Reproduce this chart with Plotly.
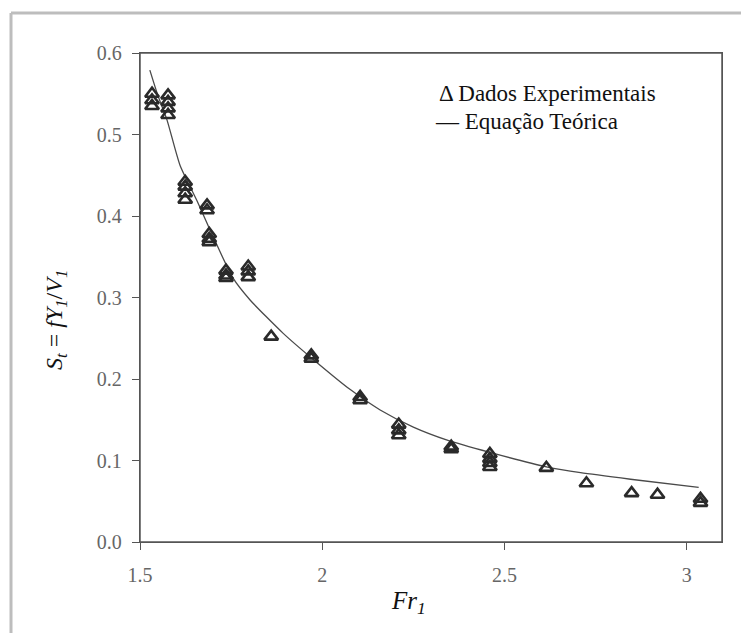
import plotly.graph_objects as go

fr_exp = [1.533, 1.533, 1.533,
          1.577, 1.577, 1.577, 1.577,
          1.624, 1.624, 1.624, 1.624,
          1.684, 1.684,
          1.690, 1.690, 1.690,
          1.736, 1.736, 1.736,
          1.797, 1.797, 1.797,
          1.860,
          1.970, 1.970,
          2.104, 2.104,
          2.210, 2.210, 2.210,
          2.354, 2.354,
          2.460, 2.460, 2.460, 2.460,
          2.615,
          2.725,
          2.849,
          2.920,
          3.038, 3.038]
st_exp = [0.550, 0.542, 0.535,
          0.548, 0.540, 0.532, 0.524,
          0.442, 0.436, 0.428, 0.420,
          0.413, 0.407,
          0.378, 0.372, 0.368,
          0.333, 0.327, 0.324,
          0.338, 0.332, 0.325,
          0.252,
          0.229, 0.225,
          0.178, 0.174,
          0.144, 0.137, 0.131,
          0.117, 0.114,
          0.108, 0.102, 0.097, 0.092,
          0.091,
          0.072,
          0.060,
          0.058,
          0.053, 0.048]

# Theoretical curve
fr_teo = [1.527, 1.549, 1.574, 1.610, 1.657, 1.684, 1.755, 1.802, 1.893,
          1.986, 2.077, 2.159, 2.250, 2.343, 2.460, 2.618, 2.709, 2.846, 3.033]
st_teo = [0.579, 0.548, 0.518, 0.462, 0.418, 0.391, 0.324, 0.297, 0.256,
          0.220, 0.187, 0.162, 0.141, 0.125, 0.110, 0.092, 0.085, 0.077, 0.067]

x_ticks = [1.5, 2, 2.5, 3]
x_tick_labels = ["1.5", "2", "2.5", "3"]
y_ticks = [0.0, 0.1, 0.2, 0.3, 0.4, 0.5, 0.6]
y_tick_labels = ["0.0", "0.1", "0.2", "0.3", "0.4", "0.5", "0.6"]

serif = "Times New Roman, Liberation Serif, serif"

fig = go.Figure()
fig.add_trace(go.Scatter(
    x=fr_teo, y=st_teo, mode="lines",
    line=dict(color="#4a4a4a", width=1.3, shape="spline", smoothing=0.6),
    name="Equação Teórica", showlegend=False))
fig.add_trace(go.Scatter(
    x=fr_exp, y=st_exp, mode="markers",
    marker=dict(symbol="triangle-up-open", size=12, color="#2a2a2a",
                line=dict(width=2.6, color="#2a2a2a")),
    name="Dados Experimentais", showlegend=False))

W, H = 741, 633
L, R, T, B = 140, 19, 53, 91
pw, ph = W - L - R, H - T - B

def px(xp):
    return (xp - L) / pw

def py(yp):
    return 1 - (yp - T) / ph

axis_common = dict(showgrid=False, zeroline=False, showline=True,
                   linecolor="#555555", linewidth=1.3, mirror=True,
                   ticks="outside", ticklen=7, tickcolor="#555555", tickwidth=1.3,
                   tickfont=dict(family=serif, size=20, color="#666666"))

fig.update_layout(
    width=W, height=H,
    margin=dict(l=L, r=R, t=T, b=B),
    paper_bgcolor="white", plot_bgcolor="white",
    font=dict(family=serif, color="#555555", size=17),
    xaxis=dict(range=[1.5, 3.097], tickvals=x_ticks, ticktext=x_tick_labels,
               ticklabelstandoff=8, **axis_common),
    yaxis=dict(range=[0, 0.6], tickvals=y_ticks, ticktext=y_tick_labels,
               ticklabelstandoff=6, **axis_common),
    shapes=[
        dict(type="rect", xref="paper", yref="paper", x0=0, x1=1, y0=0, y1=1,
             line=dict(color="#555555", width=1.5), layer="above"),
        dict(type="line", xref="paper", yref="paper",
             x0=px(11), x1=px(745), y0=py(13), y1=py(13),
             line=dict(color="#bdbdbd", width=3)),
        dict(type="line", xref="paper", yref="paper",
             x0=px(11), x1=px(11), y0=py(13), y1=py(640),
             line=dict(color="#bdbdbd", width=3)),
    ],
    annotations=[
        dict(xref="paper", yref="paper", x=px(437), y=py(93), xanchor="left",
             yanchor="middle", showarrow=False, text="Δ Dados Experimentais",
             font=dict(family=serif, size=23, color="#111111")),
        dict(xref="paper", yref="paper", x=px(433), y=py(121), xanchor="left",
             yanchor="middle", showarrow=False, text="— Equação Teórica",
             font=dict(family=serif, size=23, color="#111111")),
        dict(xref="paper", yref="paper", x=px(408), y=py(602), xanchor="center",
             yanchor="middle", showarrow=False, text="<i>Fr<sub>1</sub></i>",
             font=dict(family=serif, size=25, color="#111111")),
        dict(xref="paper", yref="paper", x=px(56), y=py(320), xanchor="center",
             yanchor="middle", showarrow=False, textangle=-90,
             text="<i>S<sub>t</sub></i> = <i>fY<sub>1</sub></i>/<i>V<sub>1</sub></i>",
             font=dict(family=serif, size=24, color="#111111")),
    ],
)

fig.write_html(
    "out.html",
    config={"displayModeBar": False},
    post_script="document.body.style.margin='0';document.body.style.overflow='hidden';",
)
